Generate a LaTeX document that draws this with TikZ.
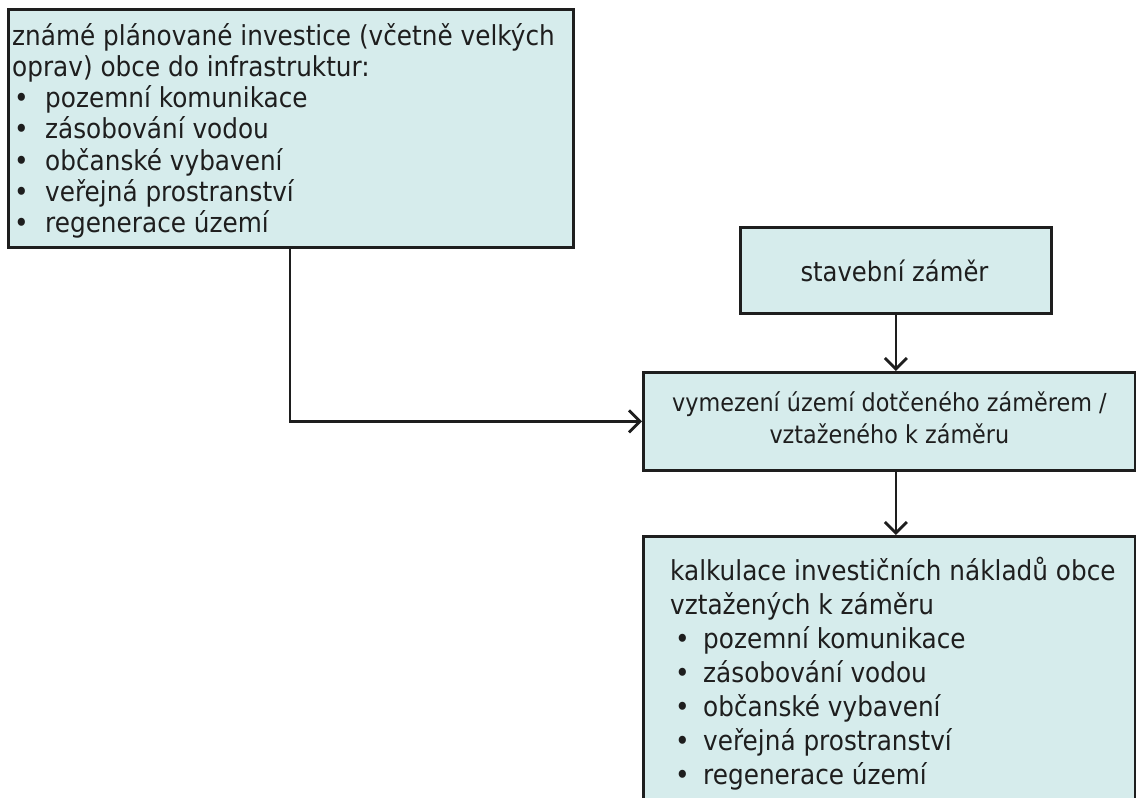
\documentclass[tikz,border=0pt]{standalone}
\usepackage{fontspec}
\setmainfont{DejaVu Sans}[FakeStretch=0.9]
\usetikzlibrary{arrows.meta}
\definecolor{boxfill}{RGB}{214,236,236}
\definecolor{ink}{RGB}{30,30,30}
\tikzset{
  frame/.style={draw=ink, fill=boxfill, line width=2.8pt, inner sep=0pt, anchor=north west},
  txt/.style={inner sep=0pt, text=ink, font=\fontsize{27.5pt}{30pt}\selectfont},
  conn/.style={draw=ink, line width=2.8pt, -{Straight Barb[length=11pt,width=22pt]}}
}
\begin{document}
\begin{tikzpicture}[x=1pt,y=-1pt]
\useasboundingbox (0,0) rectangle (1136,798);
\clip (0,0) rectangle (1136,798);
\fill[white] (0,0) rectangle (1136,798);
% boxes
\node[frame, minimum width=565pt, minimum height=238pt] (b1) at (7,8) {};
\node[frame, minimum width=311pt, minimum height=86pt] (b2) at (739,226) {};
\node[frame, minimum width=492pt, minimum height=98pt] (b3) at (642,371) {};
\node[frame, minimum width=492pt, minimum height=300pt] (b4) at (642,535) {};
% texts of box 1
\node[txt, anchor=base west] (t1a) at (12,45) {známé plánované investice (včetně velkých};
\node[txt, anchor=base west] (t1b) at (12,76.3) {oprav) obce do infrastruktur:};
\foreach \t [count=\i] in {pozemní komunikace, zásobování vodou, občanské vybavení, veřejná prostranství, regenerace území}
  \node[txt, anchor=base west] (t1i\i) at (14,{76.3+31.3*\i}) {\makebox[31pt][l]{•}\t};
% box 2
\node[txt, anchor=base, font=\fontsize{27pt}{30pt}\selectfont] (t2) at (894.5,281) {stavební záměr};
% box 3
\node[txt, align=center, font=\fontsize{24.8pt}{32pt}\selectfont] (t3) at ([yshift=4pt]b3.center) {vymezení území dotčeného záměrem /\\vztaženého k záměru};
% box 4
\node[txt, anchor=base west] (t4a) at (670,580) {kalkulace investičních nákladů obce};
\node[txt, anchor=base west] (t4b) at (670,614) {vztažených k záměru};
\foreach \t [count=\i] in {pozemní komunikace, zásobování vodou, občanské vybavení, veřejná prostranství, regenerace území}
  \node[txt, anchor=base west] (t4i\i) at (675,{614+34*\i}) {\makebox[28pt][l]{•}\t};
% connectors
\draw[conn] ([xshift=283pt]b1.south west) |- (b3.west);
\draw[conn] (b2.south) -- (b2.south |- b3.north);
\draw[conn] (b2.south |- b3.south) -- (b2.south |- b4.north);
\end{tikzpicture}
\end{document}
